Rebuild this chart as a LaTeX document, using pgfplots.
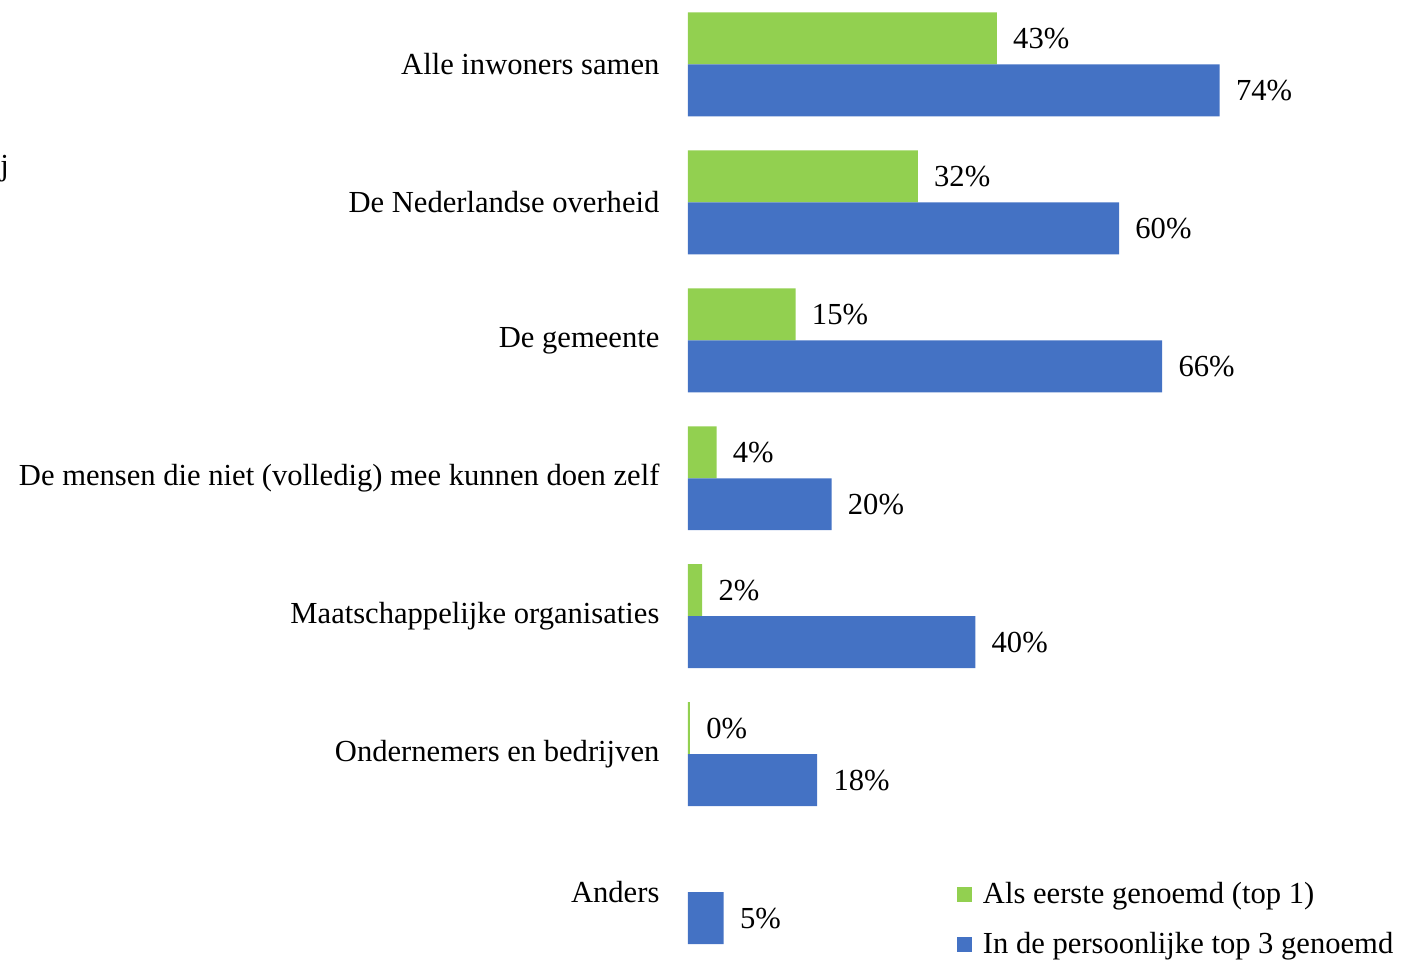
\documentclass[border=0pt]{standalone}
\usepackage{pgfplots}
\pgfplotsset{compat=1.18}
\usepackage{pgfplotstable}
\usepackage{fontspec}
\setmainfont{Liberation Serif}
\definecolor{cgreen}{HTML}{92D050}
\definecolor{cblue}{HTML}{4472C4}
\pgfplotstableread{
x y m
43 6 43
32 5 32
15 4 15
4 3 4
2 2 2
0.3 1 0
}\greendata
\pgfplotstableread{
x y m
74 6 74
60 5 60
66 4 66
20 3 20
40 2 40
18 1 18
5 0 5
}\bluedata
\begin{document}
\begin{tikzpicture}
\begin{axis}[
  x=3.595pt, y=69pt,
  xmin=0, xmax=99.9, ymin=-0.507, ymax=6.467,
  enlargelimits=false,
  clip=false,
  xbar, bar width=26pt,
  axis line style={draw=none},
  xtick=\empty,
  ytick={0,1,2,3,4,5,6},
  yticklabels={Anders,Ondernemers en bedrijven,Maatschappelijke organisaties,De mensen die niet (volledig) mee kunnen doen zelf,De gemeente,De Nederlandse overheid,Alle inwoners samen},
  major tick length=0pt,
  yticklabel style={font=\fontsize{15.3}{18}\selectfont, anchor=east, inner sep=0pt, xshift=-14pt},
  /pgf/number format/assume math mode=true,
  nodes near coords={\pgfmathprintnumber{\pgfplotspointmeta}\%},
  nodes near coords style={font=\fontsize{15.3}{18}\selectfont, anchor=west, inner sep=0pt, xshift=8pt},
  point meta=explicit,
  legend style={draw=none, fill=none, at={(axis cs:37.4,-0.196)}, anchor=west, inner sep=0pt,
    font=\fontsize{15.3}{18}\selectfont, row sep=9pt, cells={anchor=west}},
  legend image code/.code={\fill[#1,draw=none] (0pt,-3.75pt) rectangle (7.5pt,3.75pt);},
]
\addplot[fill=cgreen, draw=none, bar shift=13pt] table[x=x, y=y, meta=m] {\greendata};
\addplot[fill=cblue, draw=none, bar shift=-13pt] table[x=x, y=y, meta=m] {\bluedata};
\legend{\hspace*{3.5pt}Als eerste genoemd (top 1), \hspace*{3.5pt}In de persoonlijke top 3 genoemd}
\path (axis cs:-95.7,-0.507) rectangle (axis cs:99.9,6.467);
\node[anchor=base west, inner sep=0pt, font=\fontsize{15.3}{18}\selectfont] at (axis cs:-95.7,5.192) {j};
\end{axis}
\end{tikzpicture}
\end{document}
